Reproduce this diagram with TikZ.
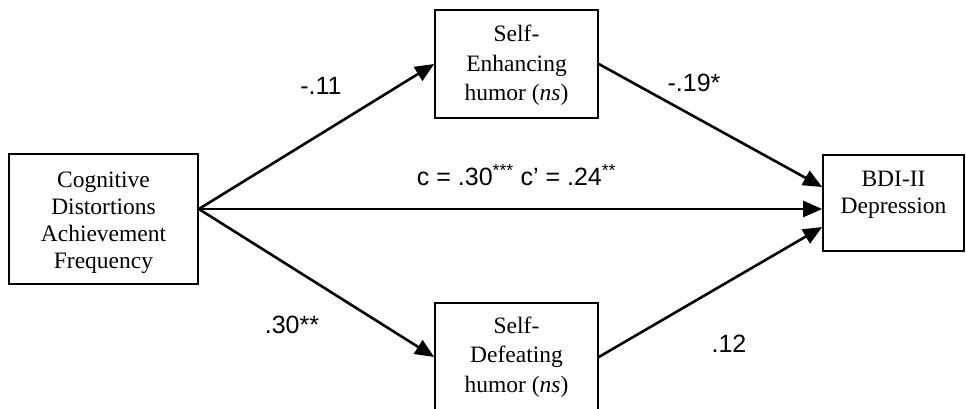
\documentclass[tikz,border=0pt]{standalone}
\usepackage{fontspec}
\setmainfont{Liberation Serif}
\newfontfamily\arialf{Liberation Sans}
\usetikzlibrary{arrows.meta,calc}
\begin{document}
\begin{tikzpicture}[x=1pt,y=-1pt,
  box/.style={draw,line width=1.6pt,align=center,inner sep=0pt},
  conn/.style={line width=2.6pt,-{Triangle[length=19pt,width=16pt]}},
  lab/.style={font=\arialf\fontsize{25}{28}\selectfont,inner sep=0pt,anchor=base}]
\useasboundingbox (0,0) rectangle (966,408);
\node[box,font=\fontsize{23.5}{27}\selectfont,minimum width=189pt,minimum height=130pt] (L) at (103.5,219)
  {\rule{0pt}{24pt}Cognitive\\Distortions\\Achievement\\Frequency};
\node[box,font=\fontsize{23.5}{29.5}\selectfont,minimum width=163pt,minimum height=108pt] (T) at (516.5,64)
  {\rule{0pt}{19pt}Self-\\Enhancing\\humor (\textit{ns})};
\node[box,font=\fontsize{23.5}{29.5}\selectfont,minimum width=163pt,minimum height=108pt] (B) at (516.5,357)
  {Self-\\Defeating\\humor (\textit{ns})};
\node[box,font=\fontsize{23.5}{26.7}\selectfont,minimum width=141pt,minimum height=96pt] (R) at (893.5,203)
  {\rule{0pt}{21pt}BDI-II\\Depression\\\mbox{}};
\coordinate (src) at ([yshift=10pt]L.east);
\draw[conn] (src) -- (T.west);
\draw[conn] (src) -- (src -| R.west);
\draw[conn] (src) -- (B.west);
\draw[conn] (T.east) -- ([yshift=16pt]R.west);
\draw[conn] (B.east) -- ([yshift=-24pt]R.west);
\node[lab] (l1) at (321,94.3) {-.11};
\node[lab] (l2) at (694,91.7) {-.19*};
\node[lab] (l3) at (516.5,185.7) {c = .30\textsuperscript{***} c’ = .24\textsuperscript{**}};
\node[lab] (l4) at (292,333) {.30**};
\node[lab] (l5) at (729,352.7) {.12};
\end{tikzpicture}
\end{document}
